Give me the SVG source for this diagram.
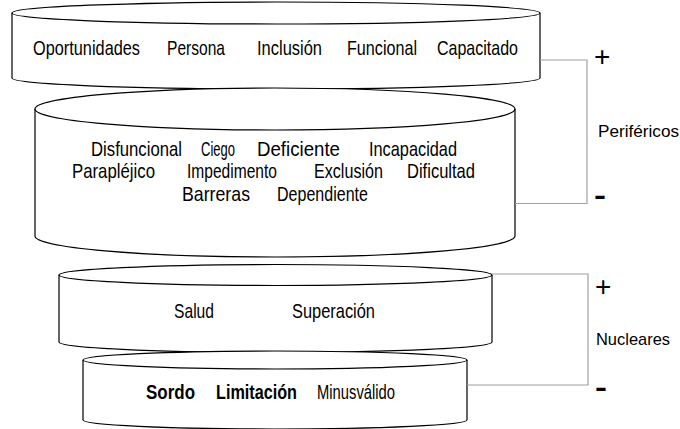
<svg xmlns="http://www.w3.org/2000/svg" width="680" height="429" viewBox="0 0 680 429">
<style>
.can{fill:#fff;stroke:#000;stroke-width:1.2}
.front{fill:none;stroke:#000;stroke-width:1.2}
.w{font-family:"Liberation Sans",Arial,sans-serif;font-size:21px;fill:#000}
.b{font-weight:bold}
.con{fill:none;stroke:#a0a0a0;stroke-width:1.2}
.lab{font-family:"Liberation Sans",Arial,sans-serif;font-size:17px;fill:#000}
.sym{font-family:"Liberation Sans",Arial,sans-serif;font-size:28px;fill:#000}
</style>
<rect width="680" height="429" fill="#fff"/>
<g id="node-top">
<path class="can" d="M12,13 A264,11 0 0 1 540,13 V78 A264,11 0 0 1 12,78 Z"/>
<path class="front" d="M12,13 A264,11 0 0 0 540,13"/>
<text class="w" x="33" y="55" textLength="107" lengthAdjust="spacingAndGlyphs">Oportunidades</text>
<text class="w" x="167" y="55" textLength="58" lengthAdjust="spacingAndGlyphs">Persona</text>
<text class="w" x="257" y="55" textLength="65" lengthAdjust="spacingAndGlyphs">Inclusión</text>
<text class="w" x="347" y="55" textLength="70" lengthAdjust="spacingAndGlyphs">Funcional</text>
<text class="w" x="437" y="55" textLength="81" lengthAdjust="spacingAndGlyphs">Capacitado</text>
</g>
<g id="node-peripheral-neg">
<path class="can" d="M35,109 A240,21 0 0 1 515,109 V236 A240,21 0 0 1 35,236 Z"/>
<path class="front" d="M35,109 A240,21 0 0 0 515,109"/>
<text class="w" x="91" y="156" textLength="91" lengthAdjust="spacingAndGlyphs">Disfuncional</text>
<text class="w" x="201" y="156" textLength="34" lengthAdjust="spacingAndGlyphs">Ciego</text>
<text class="w" x="257" y="156" textLength="83" lengthAdjust="spacingAndGlyphs">Deficiente</text>
<text class="w" x="369" y="156" textLength="88" lengthAdjust="spacingAndGlyphs">Incapacidad</text>
<text class="w" x="72" y="178" textLength="83" lengthAdjust="spacingAndGlyphs">Parapléjico</text>
<text class="w" x="187" y="178" textLength="90" lengthAdjust="spacingAndGlyphs">Impedimento</text>
<text class="w" x="314" y="178" textLength="69" lengthAdjust="spacingAndGlyphs">Exclusión</text>
<text class="w" x="407" y="178" textLength="68" lengthAdjust="spacingAndGlyphs">Dificultad</text>
<text class="w" x="182" y="201" textLength="68" lengthAdjust="spacingAndGlyphs">Barreras</text>
<text class="w" x="277" y="201" textLength="91" lengthAdjust="spacingAndGlyphs">Dependiente</text>
</g>
<g id="node-nuclear-pos">
<path class="can" d="M59,275 A216.5,10.5 0 0 1 492,275 V342 A216.5,10.5 0 0 1 59,342 Z"/>
<path class="front" d="M59,275 A216.5,10.5 0 0 0 492,275"/>
<text class="w" x="174" y="318" textLength="40" lengthAdjust="spacingAndGlyphs">Salud</text>
<text class="w" x="292" y="318" textLength="83" lengthAdjust="spacingAndGlyphs">Superación</text>
</g>
<g id="node-nuclear-neg">
<path class="can" d="M83,360 A192,9 0 0 1 467,360 V420 A192,9 0 0 1 83,420 Z"/>
<path class="front" d="M83,360 A192,9 0 0 0 467,360"/>
<text class="w b" x="146" y="399" textLength="49" lengthAdjust="spacingAndGlyphs">Sordo</text>
<text class="w b" x="216" y="399" textLength="81" lengthAdjust="spacingAndGlyphs">Limitación</text>
<text class="w" x="317" y="399" textLength="78" lengthAdjust="spacingAndGlyphs">Minusválido</text>
</g>
<g id="connectors">
<path class="con" d="M540,60 H587 V203.5 H515"/>
<path class="con" d="M492,274 H588 V385 H467"/>
</g>
<g id="label-perifericos">
<text class="sym" x="594" y="66">+</text>
<text class="lab" x="598" y="137" textLength="81" lengthAdjust="spacingAndGlyphs">Periféricos</text>
<text class="sym" x="594" y="205" font-weight="bold" font-size="34" textLength="12" lengthAdjust="spacingAndGlyphs">-</text>
</g>
<g id="label-nucleares">
<text class="sym" x="595" y="296">+</text>
<text class="lab" x="596" y="345" textLength="74" lengthAdjust="spacingAndGlyphs">Nucleares</text>
<text class="sym" x="595" y="397" font-weight="bold" font-size="34" textLength="12" lengthAdjust="spacingAndGlyphs">-</text>
</g>
</svg>
